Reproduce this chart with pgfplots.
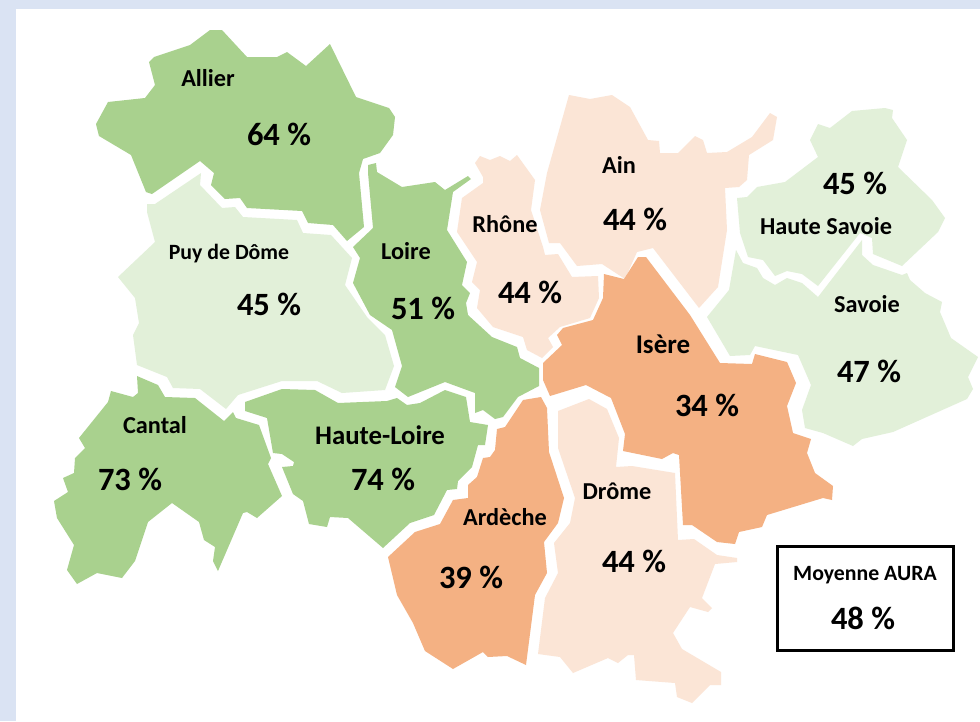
\documentclass[border=0pt]{standalone}
\usepackage{fontspec}
\setmainfont{Carlito}
\usepackage{pgfplots}
\pgfplotsset{compat=1.18}
\definecolor{bg}{HTML}{DAE3F3}
\definecolor{vert}{HTML}{A9D18E}
\definecolor{vertpale}{HTML}{E2F0D9}
\definecolor{peche}{HTML}{FBE5D6}
\definecolor{orange}{HTML}{F4B183}
\newcommand{\dep}[2][24.3]{\fontsize{#1}{26}\selectfont\bfseries #2}
\newcommand{\pct}[1]{\fontsize{32.5}{34}\selectfont\bfseries #1}
\begin{document}
\begin{tikzpicture}
\begin{axis}[
  scale only axis, width=980pt, height=721pt,
  xmin=0, xmax=980, ymin=0, ymax=721, y dir=reverse,
  hide axis, no markers,
  every axis plot/.append style={draw=none},
  clip=true,
]
  % fond
  \addplot[fill=bg] coordinates {(0,0)(980,0)(980,721)(0,721)} --cycle;
  \addplot[fill=white] coordinates {(16,9)(980,9)(980,721)(16,721)} --cycle;
  % Allier
  \addplot[fill=vert] coordinates {(210,30)(222,30)(247,57)(277,57)(287,52)(306,66)(330,44)(356,97)(389,108)(395,117)(393,135)(380,153)(363,159)(359,173)(364,227)(347,241)(333,225)(308,223)(302,211)(247,208)(240,198)(225,199)(211,185)(214,173)(200,161)(152,194)(146,192)(131,155)(99,136)(96,124)(108,102)(145,98)(155,85)(149,62)(154,57)(190,45)} --cycle;
  % Puy de Dome
  \addplot[fill=vertpale] coordinates {(147,204)(155,204)(201,173)(200,185)(222,208)(235,207)(243,217)(297,220)(303,233)(331,235)(352,258)(345,285)(367,317)(385,335)(394,366)(385,390)(342,393)(317,381)(282,381)(238,395)(226,409)(200,389)(173,388)(167,377)(137,365)(133,335)(139,323)(135,298)(118,277)(155,242)(147,212)} --cycle;
  % Loire
  \addplot[fill=vert] coordinates {(368,165)(376,163)(377,172)(402,187)(435,182)(445,190)(468,176)(471,179)(453,192)(447,230)(467,262)(462,285)(470,293)(466,303)(468,315)(492,337)(517,347)(520,358)(539,368)(539,386)(518,397)(503,417)(495,419)(483,410)(475,413)(475,393)(445,382)(408,397)(395,387)(402,366)(392,330)(370,315)(353,283)(360,258)(353,247)(373,228)(368,173)} --cycle;
  % Rhone
  \addplot[fill=peche] coordinates {(480,156)(490,160)(500,156)(510,161)(517,155)(535,180)(531,210)(543,247)(545,255)(558,254)(572,277)(598,276)(599,298)(590,318)(560,327)(548,338)(553,347)(542,358)(527,350)(523,337)(493,327)(477,308)(480,290)(472,282)(477,262)(457,232)(462,198)(483,183)(483,177)(475,163)} --cycle;
  % Ain
  \addplot[fill=peche] coordinates {(569,95)(590,99)(612,95)(630,107)(648,140)(659,141)(660,153)(678,153)(695,136)(703,140)(707,153)(727,152)(752,137)(770,113)(777,117)(773,140)(749,155)(747,180)(739,187)(725,188)(727,230)(718,287)(699,308)(653,248)(637,252)(625,279)(602,264)(577,266)(560,243)(549,243)(540,210)(547,173)} --cycle;
  % Isere
  \addplot[fill=orange] coordinates {(646,257)(690,315)(720,363)(752,364)(755,354)(787,362)(796,383)(787,406)(793,433)(811,439)(807,453)(815,473)(833,486)(832,500)(823,498)(767,515)(762,527)(739,532)(735,544)(717,542)(692,525)(683,525)(679,455)(673,453)(662,459)(623,451)(625,434)(611,398)(586,385)(550,396)(543,380)(543,363)(562,345)(557,335)(563,328)(593,320)(603,298)(604,274)(624,279)(638,257)} --cycle;
  % Ardeche
  \addplot[fill=orange] coordinates {(541,397)(547,408)(549,452)(564,498)(558,523)(544,542)(547,573)(535,595)(526,665)(507,656)(488,657)(483,652)(453,669)(425,651)(413,623)(397,595)(388,557)(415,532)(440,524)(453,500)(468,498)(468,485)(477,477)(483,458)(490,457)(495,450)(497,429)(505,427)(523,400)} --cycle;
  % Drome
  \addplot[fill=peche] coordinates {(558,411)(589,399)(607,409)(619,438)(616,467)(632,466)(675,473)(678,540)(694,539)(717,555)(737,558)(737,562)(715,564)(702,598)(712,608)(708,612)(690,607)(673,633)(682,649)(721,672)(721,685)(710,685)(692,703)(677,697)(675,683)(636,680)(634,655)(628,655)(618,663)(608,658)(573,673)(560,657)(538,654)(545,598)(558,573)(554,543)(570,523)(575,498)(558,448)} --cycle;
  % Haute Savoie
  \addplot[fill=vertpale] coordinates {(852,111)(885,108)(893,110)(892,118)(907,140)(898,167)(932,200)(945,218)(938,232)(902,266)(873,254)(872,238)(860,233)(818,286)(802,274)(787,271)(775,276)(763,260)(748,257)(740,233)(737,198)(747,197)(757,187)(785,182)(818,157)(810,140)(818,124)(830,128)} --cycle;
  % Savoie
  \addplot[fill=vertpale] coordinates {(736,250)(743,263)(757,268)(763,278)(775,285)(787,278)(802,283)(818,297)(862,240)(862,255)(873,265)(902,275)(907,273)(910,280)(925,293)(942,302)(940,312)(951,338)(978,357)(968,377)(973,389)(967,399)(893,432)(862,439)(853,446)(823,433)(805,428)(802,410)(811,385)(798,355)(755,346)(750,355)(730,356)(707,317)(729,290)} --cycle;
  % Cantal
  \addplot[fill=vert] coordinates {(137,376)(158,385)(165,397)(195,398)(224,421)(233,412)(236,418)(259,425)(271,458)(268,464)(282,496)(257,518)(247,512)(243,513)(218,571)(213,561)(215,547)(204,540)(199,522)(172,503)(148,522)(135,561)(122,578)(97,573)(77,584)(67,570)(74,545)(57,518)(54,501)(68,492)(63,478)(74,473)(75,458)(85,448)(79,438)(108,402)(111,391)(133,397)(138,393)} --cycle;
  % Haute-Loire
  \addplot[fill=vert] coordinates {(245,402)(282,389)(315,390)(338,403)(387,401)(397,398)(407,405)(420,403)(445,390)(466,397)(470,422)(488,425)(485,445)(478,445)(472,467)(458,481)(457,489)(447,490)(434,515)(410,523)(383,548)(348,518)(330,517)(327,527)(309,524)(303,501)(293,494)(282,467)(293,466)(294,462)(282,454)(273,453)(267,418)(245,411)} --cycle;
  % encadre moyenne
  \addplot[draw=black, line width=3pt, line join=miter, fill=white] coordinates {(777.5,546.5)(953.5,546.5)(953.5,650.5)(777.5,650.5)} --cycle;

  \node at (axis cs:208,78) {\dep{Allier}};
  \node at (axis cs:279,134) {\pct{64 \%}};
  \node at (axis cs:229,254) {\dep[21.8]{Puy de Dôme}};
  \node at (axis cs:269,304) {\pct{45 \%}};
  \node at (axis cs:406,251) {\dep{Loire}};
  \node at (axis cs:423,308) {\pct{51 \%}};
  \node at (axis cs:505,224) {\dep{Rhône}};
  \node at (axis cs:530,292) {\pct{44 \%}};
  \node at (axis cs:619,165) {\dep{Ain}};
  \node at (axis cs:635,219) {\pct{44 \%}};
  \node at (axis cs:855,183) {\pct{45 \%}};
  \node at (axis cs:826,226) {\dep{Haute Savoie}};
  \node at (axis cs:867,304) {\dep{Savoie}};
  \node at (axis cs:869,371) {\pct{47 \%}};
  \node at (axis cs:663,344) {\dep[27]{Isère}};
  \node at (axis cs:707,405) {\pct{34 \%}};
  \node at (axis cs:155,425) {\dep{Cantal}};
  \node at (axis cs:130,479) {\pct{73 \%}};
  \node at (axis cs:380,435) {\dep[26.8]{Haute-Loire}};
  \node at (axis cs:383,479) {\pct{74 \%}};
  \node at (axis cs:505,517) {\dep{Ardèche}};
  \node at (axis cs:471,577) {\pct{39 \%}};
  \node at (axis cs:617,491) {\dep{Drôme}};
  \node at (axis cs:634,561) {\pct{44 \%}};
  \node at (axis cs:865,575) {\dep[21.8]{Moyenne AURA}};
  \node at (axis cs:863,618) {\pct{48 \%}};
\end{axis}
\end{tikzpicture}
\end{document}
